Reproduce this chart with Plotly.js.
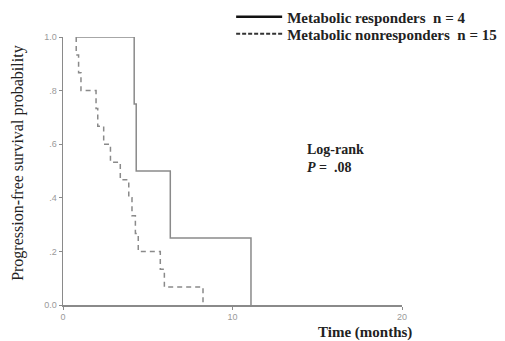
<!DOCTYPE html>
<html>
<head>
<meta charset="utf-8">
<script src="https://cdn.plot.ly/plotly-3.0.1.min.js"></script>
<style>html,body{margin:0;padding:0;background:#fff;}#chart{width:505px;height:341px;}</style>
</head>
<body>
<div id="chart"></div>
<script>
// Metabolic responders (n = 4): event times (months) and survival probability
const respTime = [0.8, 4.2, 4.32, 6.33, 11.09];
const respSurv = [1.0, 0.75, 0.5, 0.25, 0.0];
// Metabolic nonresponders (n = 15)
const nonTime = [0.78, 0.78, 0.92, 1.06, 1.95, 2.05, 2.4, 2.8, 3.38, 3.88, 4.07, 4.27, 4.44, 5.74, 5.98, 8.26];
const nonSurv = [1.0, 0.933, 0.867, 0.8, 0.733, 0.667, 0.6, 0.533, 0.467, 0.4, 0.333, 0.267, 0.2, 0.133, 0.067, 0.0];
const seriesNames = ["Metabolic responders&nbsp; n = 4", "Metabolic nonresponders&nbsp; n = 15"];
const yTickVals = [0, 0.2, 0.4, 0.6, 0.8, 1.0];
const yTickText = ["0.0", ".2", ".4", ".6", ".8", "1.0"];
const xTickVals = [0, 10, 20];
const xTickText = ["0", "10", "20"];

const serif = "Liberation Serif, Times New Roman, serif";
const gray = "#8a8a8a";
const legendFont = {family: serif, size: 15, color: "#222", weight: "bold"};

const traces = [
  {x: respTime, y: respSurv, mode: "lines", line: {shape: "hv", color: gray, width: 1.5}, showlegend: false, cliponaxis: false, hoverinfo: "skip"},
  {x: nonTime, y: nonSurv, mode: "lines", line: {shape: "hv", color: gray, width: 1.5, dash: "5px,4px"}, showlegend: false, cliponaxis: false, hoverinfo: "skip"},
  {x: [null], y: [null], mode: "lines", name: seriesNames[0], legend: "legend", line: {color: "#111", width: 2.5}},
  {x: [null], y: [null], mode: "lines", name: seriesNames[1], legend: "legend2", line: {color: "#333", width: 2, dash: "4px,2px"}}
];

const layout = {
  width: 505, height: 341,
  margin: {l: 63, r: 103, t: 37, b: 36, pad: 0, autoexpand: false},
  paper_bgcolor: "#fff", plot_bgcolor: "#fff",
  showlegend: true,
  legend: {x: 0.496, xanchor: "left", y: 1.075, yanchor: "middle", bgcolor: "rgba(0,0,0,0)", itemwidth: 46, font: legendFont},
  legend2: {x: 0.496, xanchor: "left", y: 1.011, yanchor: "middle", bgcolor: "rgba(0,0,0,0)", itemwidth: 46, font: legendFont},
  xaxis: {range: [0, 20], tickvals: xTickVals, ticktext: xTickText, showgrid: false, zeroline: false,
          showline: true, linecolor: gray, linewidth: 1.5, ticks: "outside", ticklen: 3, tickcolor: gray,
          tickfont: {family: "Liberation Sans, Arial, sans-serif", size: 9, color: "#9a9a9a"}},
  yaxis: {range: [0, 1], tickvals: yTickVals, ticktext: yTickText, showgrid: false, zeroline: false,
          showline: true, linecolor: gray, linewidth: 1.5, ticks: "outside", ticklen: 3, tickcolor: gray,
          tickfont: {family: "Liberation Sans, Arial, sans-serif", size: 9, color: "#9a9a9a"}},
  annotations: [
    {xref: "paper", yref: "paper", x: -0.133, y: 0.53, xanchor: "center", yanchor: "middle", textangle: -90, showarrow: false,
     text: "Progression-free survival probability", font: {family: serif, size: 16, color: "#222"}},
    {xref: "x", yref: "paper", x: 17.8, y: -0.104, xanchor: "center", yanchor: "middle", showarrow: false,
     text: "<b>Time (months)</b>", font: {family: serif, size: 15, color: "#222"}},
    {xref: "x", yref: "paper", x: 14.25, y: 0.545, xanchor: "left", yanchor: "middle", align: "left", showarrow: false,
     text: "<b>Log-rank<br><i>P</i> =&nbsp; .08</b>", font: {family: serif, size: 14, color: "#222"}}
  ]
};

Plotly.newPlot("chart", traces, layout, {staticPlot: true, displayModeBar: false});
</script>
</body>
</html>
